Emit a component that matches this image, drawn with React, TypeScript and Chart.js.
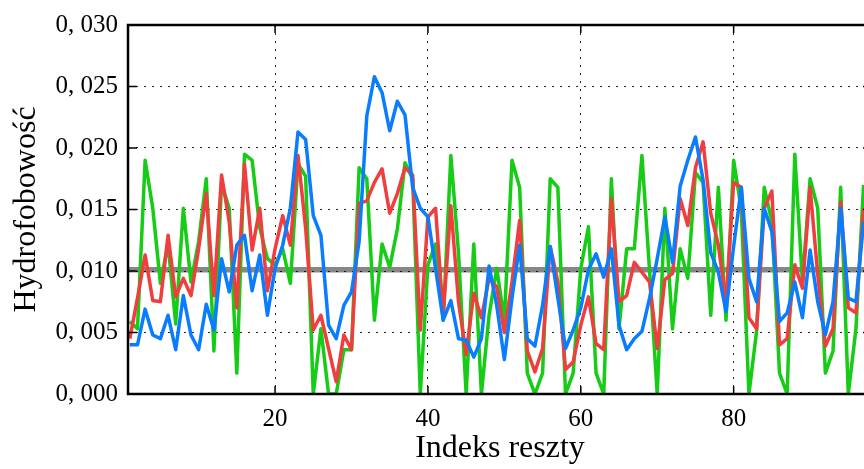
import { useEffect, useRef } from "react";
import { Chart, registerables } from "chart.js";

Chart.register(...registerables);

// Residue indices (x categories)
const residueIndex: number[] = [
  1, 2, 3, 4, 5, 6, 7, 8, 9, 10, 11, 12, 13, 14, 15, 16, 17, 18, 19, 20,
  21, 22, 23, 24, 25, 26, 27, 28, 29, 30, 31, 32, 33, 34, 35, 36, 37, 38, 39, 40,
  41, 42, 43, 44, 45, 46, 47, 48, 49, 50, 51, 52, 53, 54, 55, 56, 57, 58, 59, 60,
  61, 62, 63, 64, 65, 66, 67, 68, 69, 70, 71, 72, 73, 74, 75, 76, 77, 78, 79, 80,
  81, 82, 83, 84, 85, 86, 87, 88, 89, 90, 91, 92, 93, 94, 95, 96, 97,
];

const greenSeries: number[] = [
  0.0059, 0.0053, 0.019, 0.0151, 0.009, 0.0122, 0.0057, 0.0151, 0.0091, 0.0124,
  0.0175, 0.0035, 0.0171, 0.0151, 0.0017, 0.0195, 0.019, 0.0135, 0.011, 0.0105,
  0.0118, 0.009, 0.0187, 0.0177, 0.0, 0.0053, 0.0, 0.0, 0.0036, 0.0036,
  0.0184, 0.0175, 0.006, 0.0122, 0.0103, 0.0134, 0.0188, 0.0175, 0.0, 0.0105,
  0.0122, 0.006, 0.0194, 0.0115, 0.0, 0.0122, 0.0, 0.0064, 0.0102, 0.006,
  0.019, 0.0168, 0.0017, 0.0, 0.0017, 0.0175, 0.0168, 0.0, 0.0017, 0.0102,
  0.0136, 0.0017, 0.0, 0.0175, 0.0053, 0.0118, 0.0118, 0.0194, 0.01, 0.0,
  0.0151, 0.0053, 0.0118, 0.0094, 0.018, 0.0172, 0.0064, 0.0168, 0.006, 0.019,
  0.015, 0.0, 0.0051, 0.0168, 0.014, 0.0017, 0.0, 0.0195, 0.0091, 0.0175,
  0.0151, 0.0017, 0.0035, 0.0168, 0.0, 0.0053, 0.017,
];

const redSeries: number[] = [
  0.0045, 0.0078, 0.0113, 0.0076, 0.0075, 0.0129, 0.0079, 0.0094, 0.008, 0.0118,
  0.0163, 0.008, 0.0178, 0.014, 0.007, 0.0187, 0.0117, 0.0151, 0.0084, 0.0118,
  0.0145, 0.0121, 0.0194, 0.0135, 0.0052, 0.0064, 0.0037, 0.001, 0.0048, 0.0036,
  0.0155, 0.0157, 0.0172, 0.0183, 0.0147, 0.0163, 0.0184, 0.0178, 0.0052, 0.0144,
  0.0151, 0.0064, 0.0153, 0.0075, 0.0032, 0.0082, 0.0062, 0.0094, 0.0087, 0.005,
  0.0091, 0.0141, 0.0035, 0.0018, 0.0037, 0.012, 0.0091, 0.002, 0.0026, 0.0056,
  0.0079, 0.0041, 0.0036, 0.0159, 0.0075, 0.008, 0.0107, 0.0099, 0.0091, 0.0037,
  0.0093, 0.0098, 0.0159, 0.0137, 0.0184, 0.0205, 0.0147, 0.0121, 0.0075, 0.0172,
  0.0168, 0.0062, 0.0053, 0.0151, 0.0165, 0.004, 0.0045, 0.0105, 0.0086, 0.0168,
  0.0097, 0.0039, 0.0053, 0.0156, 0.007, 0.0066, 0.0151,
];

const blueSeries: number[] = [
  0.004, 0.004, 0.0069, 0.0048, 0.0045, 0.0064, 0.0036, 0.008, 0.0048, 0.0036,
  0.0073, 0.0052, 0.011, 0.0083, 0.0121, 0.0129, 0.0084, 0.0113, 0.0064, 0.0102,
  0.0121, 0.0151, 0.0213, 0.0207, 0.0145, 0.0129, 0.0056, 0.0045, 0.0072, 0.0083,
  0.0124, 0.0226, 0.0258, 0.0245, 0.0214, 0.0238, 0.0227, 0.0168, 0.0151, 0.0144,
  0.0102, 0.006, 0.0076, 0.0045, 0.0044, 0.003, 0.0045, 0.0104, 0.0072, 0.0028,
  0.0078, 0.0121, 0.0045, 0.0039, 0.0072, 0.012, 0.0078, 0.0037, 0.0052, 0.007,
  0.0101, 0.0114, 0.0095, 0.0118, 0.0056, 0.0036, 0.0045, 0.0051, 0.0078, 0.011,
  0.0144, 0.0107, 0.0169, 0.019, 0.0209, 0.0174, 0.0115, 0.0099, 0.0067, 0.012,
  0.0168, 0.0094, 0.0075, 0.0151, 0.0132, 0.0059, 0.0066, 0.0091, 0.0062, 0.0117,
  0.0075, 0.0048, 0.0075, 0.0151, 0.0078, 0.0075, 0.014,
];

const meanLevel = 0.0101;
const meanSpan: number[] = [0, 99];

const xTickValues: number[] = [20, 40, 60, 80];
const yTickValues: number[] = [0, 0.005, 0.01, 0.015, 0.02, 0.025, 0.03];
const yTickLabels: string[] = ["0, 000", "0, 005", "0, 010", "0, 015", "0, 020", "0, 025", "0, 030"];

const FONT = "'Liberation Serif', 'Times New Roman', serif";

const framePlugin = {
  id: "frame",
  afterDraw(chart: any) {
    const { ctx, chartArea, scales } = chart;
    const { left, top, right, bottom } = chartArea;
    ctx.save();
    ctx.strokeStyle = "#000";
    ctx.lineWidth = 1.5;
    ctx.setLineDash([]);
    ctx.beginPath();
    for (const v of yTickValues) {
      const y = scales.y.getPixelForValue(v);
      ctx.moveTo(left, y);
      ctx.lineTo(left + 9, y);
      ctx.moveTo(right, y);
      ctx.lineTo(right - 9, y);
    }
    for (const v of xTickValues) {
      const x = scales.x.getPixelForValue(v);
      ctx.moveTo(x, bottom);
      ctx.lineTo(x, bottom - 8);
      ctx.moveTo(x, top);
      ctx.lineTo(x, top + 8);
    }
    ctx.stroke();
    ctx.lineWidth = 2.5;
    ctx.strokeRect(left, top, right - left, bottom - top);
    ctx.restore();
  },
};

function toPoints(values: number[]) {
  return values.map((v, i) => ({ x: residueIndex[i], y: v }));
}

export default function App() {
  const canvasRef = useRef<HTMLCanvasElement | null>(null);

  useEffect(() => {
    const canvas = canvasRef.current;
    if (!canvas) return;
    document.body.style.margin = "0";
    const chart = new Chart(canvas, {
      type: "line",
      data: {
        datasets: [
          {
            label: "blue",
            data: toPoints(blueSeries),
            borderColor: "rgb(10,125,255)",
            borderWidth: 3.5,
            pointRadius: 0,
            borderJoinStyle: "round",
            order: 0,
          },
          {
            label: "red",
            data: toPoints(redSeries),
            borderColor: "rgb(240,62,62)",
            borderWidth: 3.5,
            pointRadius: 0,
            borderJoinStyle: "round",
            order: 1,
          },
          {
            label: "green",
            data: toPoints(greenSeries),
            borderColor: "rgb(22,204,22)",
            borderWidth: 3.5,
            pointRadius: 0,
            borderJoinStyle: "round",
            order: 2,
          },
          {
            label: "mean",
            data: meanSpan.map((x) => ({ x, y: meanLevel })),
            borderColor: "rgba(0,0,0,0.47)",
            borderWidth: 5.5,
            pointRadius: 0,
            order: 3,
          },
        ],
      },
      options: {
        animation: false,
        responsive: false,
        devicePixelRatio: 1,
        layout: { padding: { top: 24, left: 0, right: 0, bottom: 0 } },
        plugins: {
          legend: { display: false },
          tooltip: { enabled: false },
        },
        scales: {
          x: {
            type: "linear",
            min: 0.76,
            max: 98.1,
            afterFit(scale: any) {
              scale.height = 75;
            },
            afterBuildTicks(scale: any) {
              scale.ticks = xTickValues.map((v) => ({ value: v }));
            },
            border: { display: false, dash: [2, 6] },
            grid: {
              drawTicks: false,
              color: "rgba(0,0,0,0.85)",
              lineWidth: 1,
            },
            ticks: {
              padding: 10,
              color: "#000",
              font: { family: FONT, size: 25 },
              maxRotation: 0,
              callback: (v: any) => String(v),
            },
            title: {
              display: true,
              text: "Indeks reszty",
              color: "#000",
              font: { family: FONT, size: 32 },
              padding: { top: 0, bottom: 1 },
            },
          },
          y: {
            type: "linear",
            min: 0,
            max: 0.03,
            afterFit(scale: any) {
              scale.width = 128;
            },
            afterBuildTicks(scale: any) {
              scale.ticks = yTickValues.map((v) => ({ value: v }));
            },
            border: { display: false, dash: [2, 6] },
            grid: {
              drawTicks: false,
              color: "rgba(0,0,0,0.85)",
              lineWidth: 1,
            },
            ticks: {
              padding: 10,
              color: "#000",
              font: { family: FONT, size: 25 },
              callback: (v: any) => {
                const idx = yTickValues.findIndex((t) => Math.abs(t - Number(v)) < 1e-9);
                return idx >= 0 ? yTickLabels[idx] : "";
              },
            },
            title: {
              display: true,
              text: "Hydrofobowość",
              color: "#000",
              font: { family: FONT, size: 32 },
              padding: { top: 7, bottom: 0 },
            },
          },
        },
      },
      plugins: [framePlugin],
    });
    return () => chart.destroy();
  }, []);

  return (
    <div style={{ position: "fixed", left: 0, top: 0, width: 864, height: 469, overflow: "hidden", background: "#fff" }}>
      <canvas ref={canvasRef} width={872} height={469} style={{ display: "block" }} />
    </div>
  );
}
